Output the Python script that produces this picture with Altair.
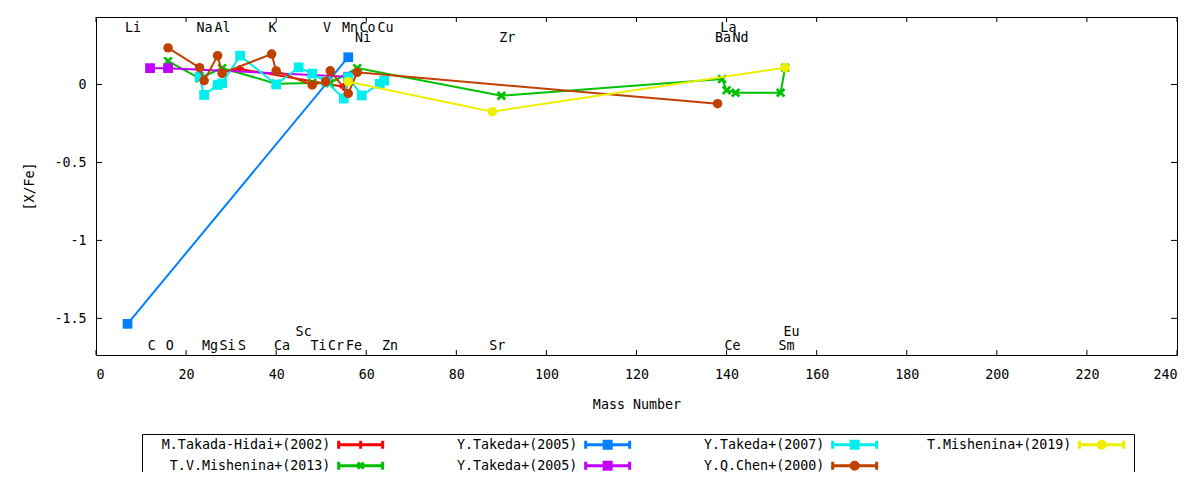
import pandas as pd
import altair as alt

FONT = "DejaVu Sans Mono"
FS = 13.33
W, H = 1081, 338

# series, in the order they are drawn (and listed in the key)
names = ["M.Takada-Hidai+(2002)", "T.V.Mishenina+(2013)", "Y.Takeda+(2005)",
         "Y.Takeda+(2005)#2", "Y.Takeda+(2007)", "Y.Q.Chen+(2000)", "T.Mishenina+(2019)"]
colors = ["#ff0000", "#00c000", "#0080ff", "#c000ff", "#00eeee", "#c04000", "#eeee00"]

takada_hidai_mass = [28, 32, 55]
takada_hidai_xfe = [0.08, 0.10, -0.015]

mishenina13_mass = [16, 23, 28, 40, 48, 52, 58, 90, 139, 140, 142, 152, 153]
mishenina13_xfe = [0.15, 0.04, 0.105, 0.005, 0.01, 0.01, 0.105, -0.072, 0.035, -0.037, -0.053, -0.053, 0.108]

takeda05a_mass = [7, 56]
takeda05a_xfe = [-1.535, 0.175]

takeda05b_mass = [12, 16, 56]
takeda05b_xfe = [0.105, 0.105, 0.05]

takeda07_mass = [23, 24, 27, 28, 32, 40, 45, 48, 51, 55, 56, 59, 63, 64]
takeda07_xfe = [0.05, -0.067, -0.003, 0.008, 0.185, 0.0, 0.11, 0.07, 0.02, -0.09, 0.047, -0.07, 0.005, 0.025]

chen_mass = [16, 23, 24, 27, 28, 39, 40, 48, 51, 52, 56, 58, 138]
chen_xfe = [0.235, 0.108, 0.025, 0.185, 0.072, 0.195, 0.087, -0.003, 0.018, 0.088, -0.057, 0.078, -0.123]

mishenina19_mass = [56, 88, 153]
mishenina19_xfe = [0.018, -0.174, 0.108]

masses = [takada_hidai_mass, mishenina13_mass, takeda05a_mass, takeda05b_mass,
          takeda07_mass, chen_mass, mishenina19_mass]
values = [takada_hidai_xfe, mishenina13_xfe, takeda05a_xfe, takeda05b_xfe,
          takeda07_xfe, chen_xfe, mishenina19_xfe]

# element labels
elements = ["Li", "Na", "Al", "K", "V", "Mn", "Co", "Cu", "La",
            "Ni", "Zr", "Ba", "Nd",
            "C", "O", "Mg", "Si", "S", "Ca", "Ti", "Cr", "Fe", "Zn", "Sr", "Ce", "Sm",
            "Sc", "Eu"]
label_x = [8.2, 24.1, 28.1, 39.2, 51.3, 56.4, 60.3, 64.3, 140.4,
           59.3, 91.3, 139.2, 143.1,
           12.4, 16.4, 25.3, 29.2, 32.4, 41.3, 49.4, 53.3, 57.3, 65.3, 89.1, 141.3, 153.3,
           46.1, 154.4]
label_y = [0.365] * 9 + [0.297] * 4 + [-1.678] * 13 + [-1.59] * 2

x_ticks = [0, 20, 40, 60, 80, 100, 120, 140, 160, 180, 200, 220, 240]
y_ticks = [-1.5, -1, -0.5, 0]

rows = []
for name, ms, vs in zip(names, masses, values):
    for m, v in zip(ms, vs):
        rows.append({"series": name, "mass": m, "xfe": v})
df = pd.DataFrame(rows)
labels_df = pd.DataFrame({"element": elements, "mass": label_x, "xfe": label_y})

x_enc = alt.X("mass:Q", scale=alt.Scale(domain=[0, 240], nice=False, zero=False),
              axis=alt.Axis(title="Mass Number", values=x_ticks, labelPadding=12, titlePadding=17))
y_enc = alt.Y("xfe:Q", scale=alt.Scale(domain=[-1.735, 0.433], nice=False, zero=False),
              axis=alt.Axis(title="[X/Fe]", values=y_ticks, labelPadding=10, titlePadding=17,
                            labelExpr="toString(datum.value)"))

# plot markers (gnuplot-like point types)
x_path = "M-1,-0.6L-0.6,-1L0,-0.4L0.6,-1L1,-0.6L0.4,0L1,0.6L0.6,1L0,0.4L-0.6,1L-1,0.6L-0.4,0Z"
marker = {"M.Takada-Hidai+(2002)": ("cross", 60), "T.V.Mishenina+(2013)": (x_path, 90),
          "Y.Takeda+(2005)": ("square", 95), "Y.Takeda+(2005)#2": ("square", 95),
          "Y.Takeda+(2007)": ("square", 95), "Y.Q.Chen+(2000)": ("circle", 90),
          "T.Mishenina+(2019)": ("circle", 90)}

base = alt.Chart(df)
layers = []
for name, color in zip(names, colors):
    shape, size = marker[name]
    sub = base.transform_filter(alt.datum.series == name)
    layers.append(sub.mark_line(color=color, strokeWidth=2).encode(x=x_enc, y=y_enc))
    layers.append(sub.mark_point(shape=shape, size=size, filled=True, color=color, opacity=1)
                  .encode(x=x_enc, y=y_enc))

labels = alt.Chart(labels_df).mark_text(font=FONT, fontSize=FS, color="black",
                                        baseline="middle", align="center").encode(
    x=x_enc, y=y_enc, text="element:N")

# inward ticks on all four sides
xt = alt.Chart(pd.DataFrame({"mass": x_ticks}))
yt = alt.Chart(pd.DataFrame({"xfe": y_ticks}))
ticks = [
    xt.mark_rule(color="black").encode(x=x_enc, y=alt.value(H), y2=alt.value(H - 5)),
    xt.mark_rule(color="black").encode(x=x_enc, y=alt.value(0), y2=alt.value(5)),
    yt.mark_rule(color="black").encode(y=y_enc, x=alt.value(0), x2=alt.value(6)),
    yt.mark_rule(color="black").encode(y=y_enc, x=alt.value(W), x2=alt.value(W - 6)),
]

# key: label right-aligned, then a line sample with caps and the marker.
# symbolSize 4 makes the symbol path units equal to pixels, so the sample
# can be drawn to the right of the label.
bar = "M186,0H230M186,-4V4M230,-4V4"
sq = "M204.5,-3.5H211.5V3.5H204.5ZM206.5,-1.5H209.5V1.5H206.5Z"
ci = "M211.5,0A3.5,3.5 0 1 1 204.5,0A3.5,3.5 0 1 1 211.5,0ZM209.5,0A1.5,1.5 0 1 1 206.5,0A1.5,1.5 0 1 1 209.5,0Z"
legend_marks = {"M.Takada-Hidai+(2002)": "M208,-4V4",
                "T.V.Mishenina+(2013)": "M205,-3L211,3M205,3L211,-3M208,-2V2",
                "Y.Takeda+(2005)": sq, "Y.Takeda+(2005)#2": sq, "Y.Takeda+(2007)": sq,
                "Y.Q.Chen+(2000)": ci, "T.Mishenina+(2019)": ci}
legend_paths = [bar + legend_marks[n] for n in names]

leg = alt.Legend(title=None, orient="none", legendX=46, legendY=417, columns=4,
                 direction="vertical",
                 symbolSize=4, symbolStrokeWidth=3,
                 labelFont=FONT, labelFontSize=FS, labelColor="black", labelAlign="right",
                 labelBaseline="middle", labelOffset=171, labelLimit=400,
                 labelExpr="pad(replace(datum.label, '#2', ''), 23, ' ', 'left')",
                 columnPadding=4, rowPadding=0, padding=4, gridAlign="all",
                 strokeColor="black", fillColor="white")

legend_layer = base.transform_filter("false").mark_point(filled=False, strokeWidth=3, opacity=1).encode(
    x=x_enc, y=y_enc,
    stroke=alt.Stroke("series:N", scale=alt.Scale(domain=names, range=colors), legend=leg),
    shape=alt.Shape("series:N", scale=alt.Scale(domain=names, range=legend_paths), legend=leg),
)

chart = alt.layer(*ticks, *layers, labels, legend_layer).properties(
    width=W, height=H,
    autosize=alt.AutoSizeParams(type="none"),
    padding={"left": 88, "top": 9, "right": 15, "bottom": 117},
).configure_view(
    stroke="black", strokeWidth=1
).configure_axis(
    labelFont=FONT, labelFontSize=FS, labelColor="black",
    titleFont=FONT, titleFontSize=FS, titleColor="black", titleFontWeight="normal",
    ticks=False, domain=False, grid=False
)

chart.save("out.html", embed_options={"renderer": "svg", "actions": False})
